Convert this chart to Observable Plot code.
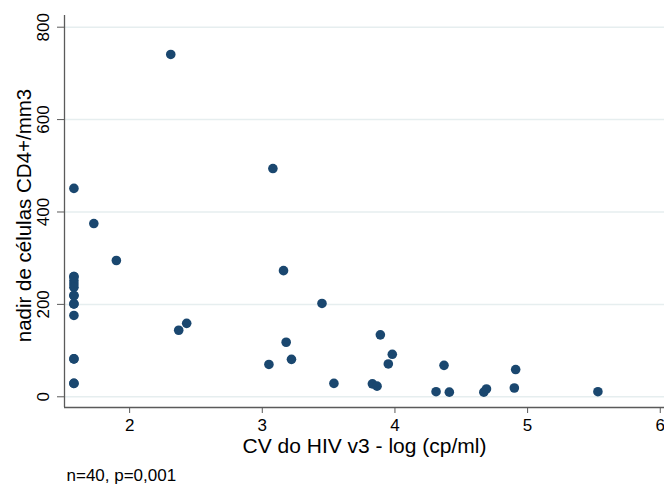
<!DOCTYPE html>
<html>
<head>
<meta charset="utf-8">
<script src="https://cdn.jsdelivr.net/npm/d3@7"></script>
<script src="https://cdn.jsdelivr.net/npm/@observablehq/plot@0.6"></script>
<style>
  html, body { margin: 0; padding: 0; background: #fff; }
  svg { display: block; font-family: "Liberation Sans", Arial, Helvetica, sans-serif; }
</style>
</head>
<body>
<div id="chart"></div>
<script>
// Viral load (log cp/ml) and CD4 nadir (cells/mm3)
const cvLog = [
  1.58, 1.58, 1.58, 1.58, 1.58, 1.58, 1.58, 1.58, 1.58, 1.58,
  1.58, 1.58, 1.58, 1.58, 1.58,
  1.73, 1.90, 2.31, 2.37, 2.43,
  3.05, 3.08, 3.16, 3.18, 3.22, 3.45, 3.54,
  3.83, 3.865, 3.89, 3.95, 3.98,
  4.31, 4.37, 4.41, 4.67, 4.69, 4.90, 4.91, 5.53
];
const cd4Nadir = [
  451, 260, 251, 244, 237, 219, 201, 176, 82, 29,
  219, 201, 82, 29, 260,
  375, 295, 741, 144, 159,
  70, 494, 273, 118, 81, 202, 29,
  28, 23, 134, 71, 92,
  11, 68, 10, 10, 17, 19, 59, 11
];
const xTicks = [2, 3, 4, 5, 6];
const yTicks = [0, 200, 400, 600, 800];
const xTitle = "CV do HIV v3 - log (cp/ml)";
const yTitle = "nadir de células CD4+/mm3";
const note = "n=40, p=0,001";

const data = cvLog.map((x, i) => ({x, y: cd4Nadir[i]}));

const navy = "#1a476f";
const axisColor = "#5a5a5a";
const gridColor = "#e6eeef";

const chart = Plot.plot({
  width: 664,
  height: 486,
  marginLeft: 64,
  marginRight: 0,
  marginTop: 15,
  marginBottom: 79,
  style: {fontFamily: '"Liberation Sans", Arial, Helvetica, sans-serif', background: "#fff", color: "#000"},
  x: {domain: [1.509, 6.032], ticks: xTicks},
  y: {domain: [-23.2, 825.3], ticks: yTicks},
  marks: [
    Plot.gridY(yTicks, {stroke: gridColor, strokeOpacity: 1, strokeWidth: 1.5}),
    Plot.ruleX([1.509], {stroke: axisColor, strokeWidth: 1.3}),
    Plot.ruleY([-23.2], {stroke: axisColor, strokeWidth: 1.3}),
    Plot.axisX(xTicks, {tickSize: 6, tickPadding: 5, fontSize: 17, tickFormat: d => String(d), stroke: axisColor, label: null, color: "#000"}),
    Plot.axisY(yTicks, {tickSize: 7, tickFormat: () => "", stroke: axisColor, label: null}),
    Plot.text(yTicks, {y: d => d, text: d => String(d), frameAnchor: "left", rotate: -90, dx: -20.5, textAnchor: "middle", lineAnchor: "middle", fontSize: 17, fill: "#000"}),
    Plot.text([xTitle], {text: d => d, frameAnchor: "bottom", dy: 31, lineAnchor: "top", fontSize: 21, fill: "#000"}),
    Plot.text([yTitle], {text: d => d, frameAnchor: "left", rotate: -90, dx: -40, dy: 4, textAnchor: "middle", lineAnchor: "middle", fontSize: 20.5, fill: "#000"}),
    Plot.text([note], {text: d => d, frameAnchor: "bottom-left", dx: 2, dy: 61, textAnchor: "start", lineAnchor: "top", fontSize: 17, fill: "#000"}),
    Plot.dot(data, {x: "x", y: "y", r: 4.8, fill: navy, stroke: "none"})
  ]
});
document.getElementById("chart").appendChild(chart);
</script>
</body>
</html>
